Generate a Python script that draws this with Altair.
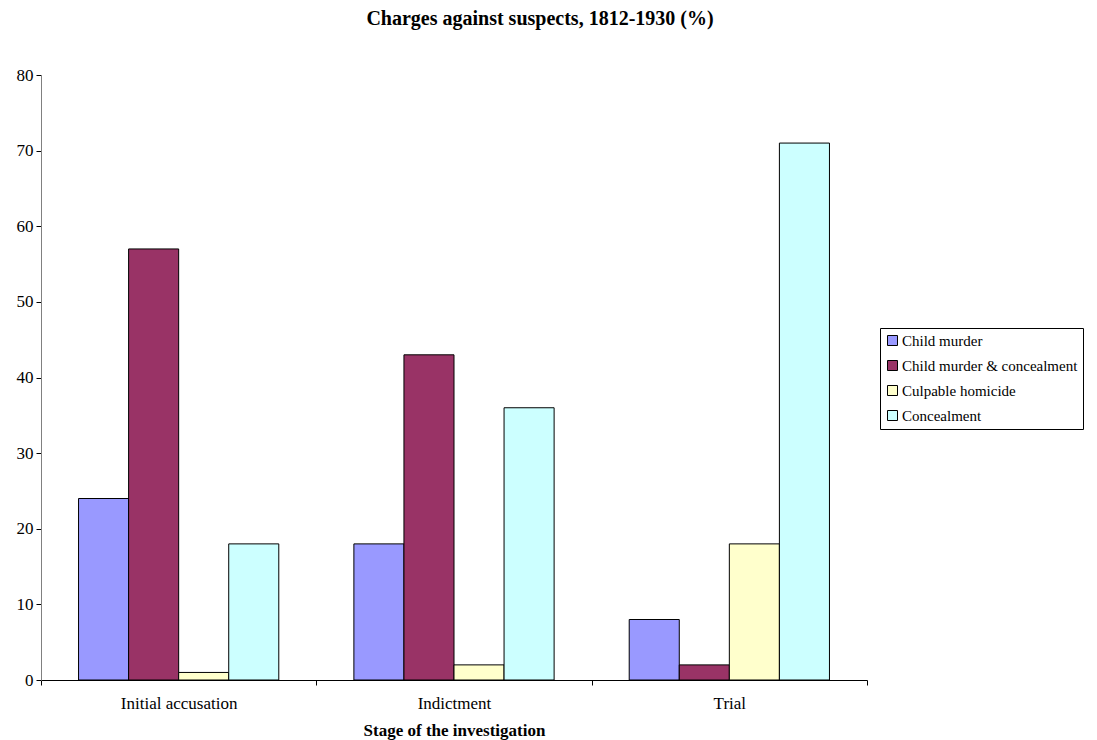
import altair as alt
import pandas as pd

stages = ["Initial accusation", "Indictment", "Trial"]
series = ["Child murder", "Child murder & concealment", "Culpable homicide", "Concealment"]
child_murder = [24, 18, 8]
child_murder_concealment = [57, 43, 2]
culpable_homicide = [1, 2, 18]
concealment = [18, 36, 71]
colors = ["#9999FF", "#993366", "#FFFFCC", "#CCFFFF"]
y_ticks = [0, 10, 20, 30, 40, 50, 60, 70, 80]

rows = []
for s, vals in zip(series, [child_murder, child_murder_concealment, culpable_homicide, concealment]):
    for st, v in zip(stages, vals):
        rows.append({"stage": st, "series": s, "value": v})
df = pd.DataFrame(rows)

font = "Liberation Serif"

chart = alt.Chart(df).mark_bar(stroke="black", strokeWidth=1, opacity=1).encode(
    x=alt.X(
        "stage:N", sort=stages,
        scale=alt.Scale(paddingInner=0, paddingOuter=0),
        axis=alt.Axis(
            title="Stage of the investigation", labelAngle=0, tickBand="extent",
            labelFont=font, labelFontSize=17, labelColor="black", labelPadding=10,
            titleFont=font, titleFontSize=17, titleFontWeight="bold", titleColor="black",
            titlePadding=11, domainColor="black", tickColor="black", tickSize=5,
        ),
    ),
    xOffset=alt.XOffset("series:N", sort=series,
                        scale=alt.Scale(paddingInner=0, paddingOuter=0.75)),
    y=alt.Y(
        "value:Q",
        scale=alt.Scale(domain=[0, 80]),
        axis=alt.Axis(
            title=None, values=y_ticks, grid=False,
            labelFont=font, labelFontSize=17, labelColor="black", labelPadding=3,
            domainColor="#808080", tickColor="black", tickSize=5,
        ),
    ),
    color=alt.Color(
        "series:N", sort=series,
        scale=alt.Scale(domain=series, range=colors),
        legend=alt.Legend(
            title=None, orient="none", legendX=839, legendY=253,
            symbolType="square", symbolSize=100, symbolStrokeColor="black",
            symbolStrokeWidth=1, symbolOpacity=1, labelOffset=2,
            labelFont=font, labelFontSize=15, labelColor="black", labelLimit=400,
            rowPadding=9, strokeColor="black", padding=5, fillColor="white",
        ),
    ),
).properties(
    width=826, height=605,
    title=alt.TitleParams(
        text="Charges against suspects, 1812-1930 (%)", font=font, fontSize=20,
        fontWeight="bold", color="black", anchor="middle", dx=86, offset=37,
    ),
    autosize=alt.AutoSizeParams(type="none"),
    padding={"left": 33, "top": 67, "right": 222, "bottom": 60},
).configure_view(stroke=None)

chart.save("out.html", embed_options={"renderer": "svg", "actions": False})
